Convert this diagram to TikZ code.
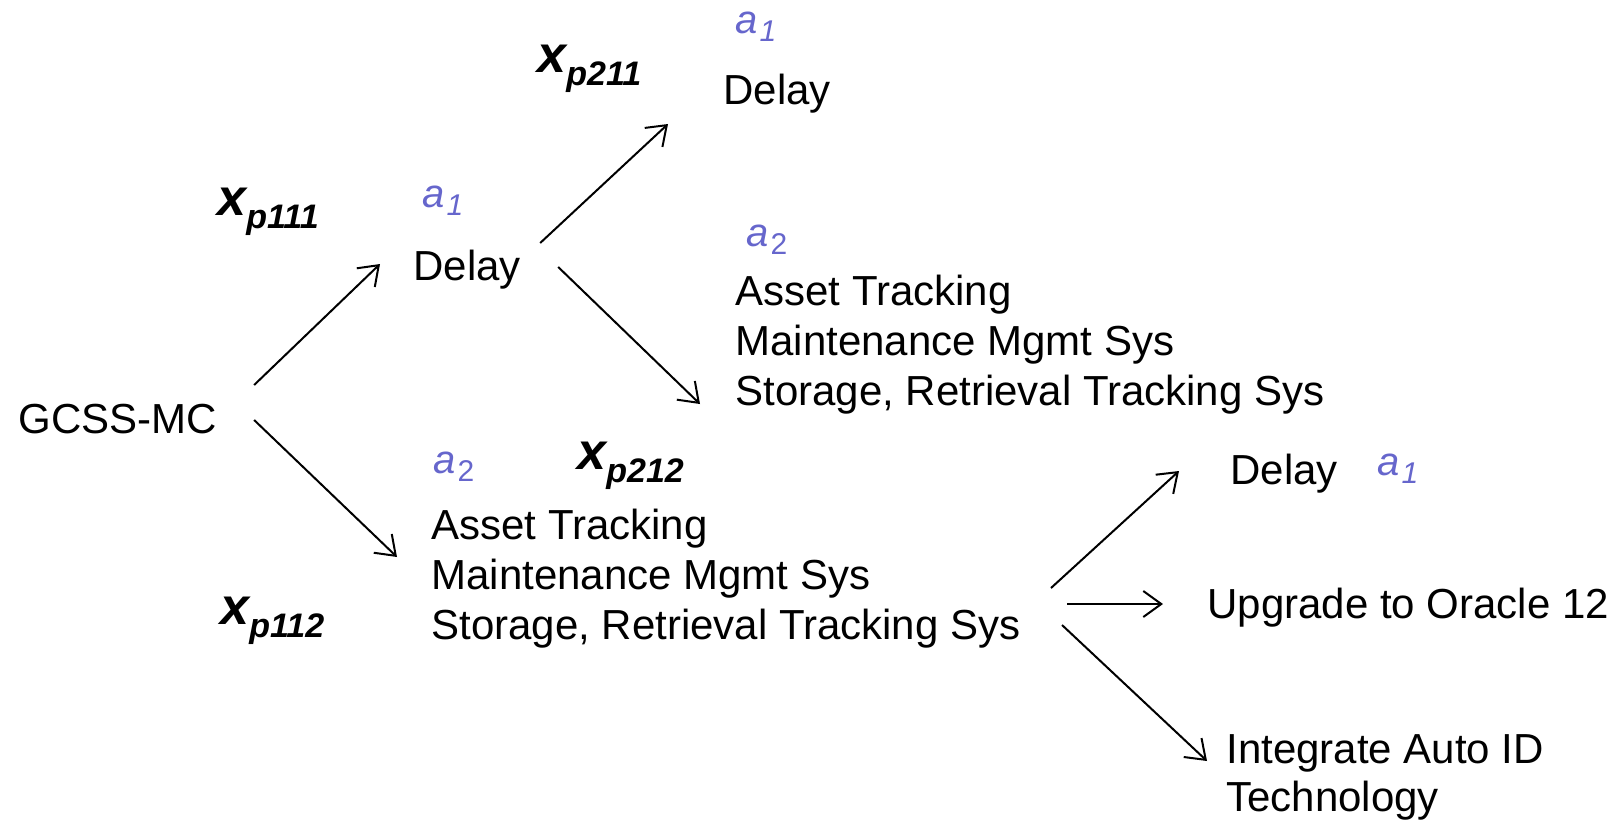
\documentclass[tikz,border=0pt]{standalone}
\usepackage{fontspec}
\setmainfont{Liberation Sans}
\usetikzlibrary{arrows.meta}

\definecolor{altblue}{RGB}{102,102,204}

% decision variable x_{p...} and alternative label a_i
\newcommand{\xvar}[1]{{\fontsize{26}{28}\selectfont\bfseries\itshape x}\raisebox{-6.5pt}{\fontsize{17}{20}\selectfont\bfseries\itshape #1}}
\newcommand{\altlbl}[1]{{\itshape a}\kern1pt\raisebox{-4pt}{\fontsize{15}{18}\selectfont #1}}

\begin{document}
\begin{tikzpicture}[x=0.5pt, y=-0.5pt,
  txt/.style={anchor=base west, inner sep=0pt, font=\fontsize{21}{25}\selectfont},
  blk/.style={txt, align=left},
  var/.style={anchor=base west, inner sep=0pt},
  choice/.style={anchor=base west, inner sep=0pt, text=altblue, font=\fontsize{20}{24}\selectfont},
  arr/.style={-{Straight Barb[length=9pt,width=13pt]}, line width=1pt}]
\useasboundingbox (0,0) rectangle (1624,821);

% root
\node[txt] (gcss) at (18,433) {GCSS-MC};

% first stage (multi-line blocks sit on their last baseline)
\node[var] (x111) at (217,215) {\xvar{p111}};
\node[choice] (a111) at (422,207) {\altlbl{\itshape 1}};
\node[txt] (delayA) at (413,280) {Delay};

\node[var] (x112) at (220,624) {\xvar{p112}};
\node[choice] (a112) at (433,473) {\altlbl{2}};
\node[blk] (sysL) at (431,639) {Asset Tracking\\Maintenance Mgmt Sys\\Storage, Retrieval Tracking Sys};

% second stage after a delay
\node[var] (x211) at (537,72) {\xvar{p211}};
\node[choice] (a211) at (735,33) {\altlbl{\itshape 1}};
\node[txt] (delayB) at (723,104) {Delay};
\node[choice] (a212u) at (746,246) {\altlbl{2}};
\node[blk] (sysU) at (735,405) {Asset Tracking\\Maintenance Mgmt Sys\\Storage, Retrieval Tracking Sys};

% second stage after the systems
\node[var] (x212) at (577,469) {\xvar{p212}};
\node[txt] (delayC) at (1230,484) {Delay};
\node[choice] (a212) at (1377,475) {\altlbl{\itshape 1}};
\node[txt] (oracle) at (1207,618) {Upgrade to Oracle 12};
\node[blk, font=\fontsize{21}{24}\selectfont] (autoid) at (1226,811) {Integrate Auto ID\\Technology};

\draw[arr] ([shift={(37,-48)}]gcss.base east) -- ([shift={(-33,-16)}]delayA.base west);
\draw[arr] ([shift={(37,-13)}]gcss.base east) -- ([shift={(-34,-82)}]sysL.base west);
\draw[arr] ([shift={(19,-37)}]delayA.base east) -- ([shift={(-55,20)}]delayB.base west);
\draw[arr] ([shift={(37,-13)}]delayA.base east) -- ([shift={(-35,-1)}]sysU.base west);
\draw[arr] ([shift={(620,-51)}]sysL.base west) -- ([shift={(-51,-13)}]delayC.base west);
\draw[arr] ([shift={(636,-35)}]sysL.base west) -- ([shift={(-44,-14)}]oracle.base west);
\draw[arr] ([shift={(631,-14)}]sysL.base west) -- ([shift={(-19,-50)}]autoid.base west);
\end{tikzpicture}
\end{document}
